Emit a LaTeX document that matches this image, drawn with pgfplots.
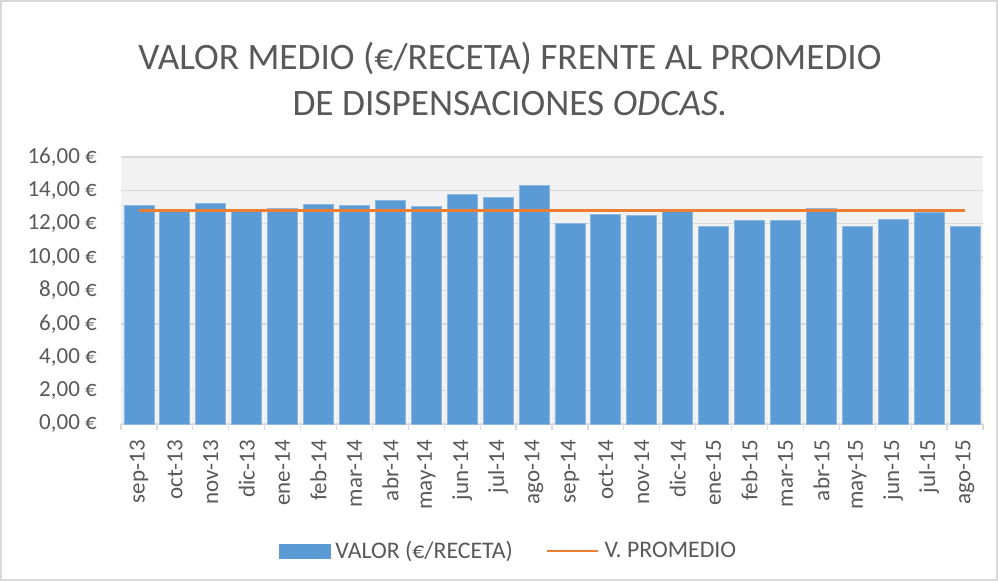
\documentclass[border=0pt]{standalone}
\usepackage{pgfplots}
\pgfplotsset{compat=1.18}
\usepackage{fontspec}
\setmainfont{Carlito}
\definecolor{barblue}{HTML}{5B9BD5}
\definecolor{baredge}{HTML}{8DB8E3}
\definecolor{lineor}{HTML}{ED7D31}
\definecolor{txt}{HTML}{595959}
\definecolor{gridc}{HTML}{D9D9D9}
\definecolor{bgc}{HTML}{F2F2F2}
\begin{document}
\begin{tikzpicture}
\useasboundingbox (-121pt,-157pt) rectangle (877pt,424pt);
\fill[white] (-121pt,-157pt) rectangle (877pt,424pt);
\draw[gridc, line width=1.2pt] (-120pt,-156pt) rectangle (876pt,423pt);
\node[anchor=base, text=txt, font=\fontsize{37.3}{37.3}\selectfont] at (389pt,354pt) {VALOR MEDIO (€/RECETA) FRENTE AL PROMEDIO};
\node[anchor=base, text=txt, font=\fontsize{37.3}{37.3}\selectfont] at (389pt,308pt) {DE DISPENSACIONES \textit{ODCAS.}};
\begin{axis}[
  width=862pt, height=267pt, scale only axis,
  xmin=-0.5, xmax=23.5, ymin=0, ymax=16,
  axis background/.style={fill=bgc},
  axis lines*=left,
  y axis line style={draw=none},
  x axis line style={gridc, line width=1.2pt},
  ytick={0,2,...,16},
  yticklabels={{0,00 €},{2,00 €},{4,00 €},{6,00 €},{8,00 €},{10,00 €},{12,00 €},{14,00 €},{16,00 €}},
  xtick={0,...,23},
  xticklabels={sep-13,oct-13,nov-13,dic-13,ene-14,feb-14,mar-14,abr-14,may-14,jun-14,jul-14,ago-14,sep-14,oct-14,nov-14,dic-14,ene-15,feb-15,mar-15,abr-15,may-15,jun-15,jul-15,ago-15},
  minor xtick={-0.5,0.5,...,23.5},
  major tick length=0pt,
  minor tick length=6pt,
  tick align=outside,
  minor tick style={gridc, line width=1.2pt},
  ymajorgrids=true,
  grid style={gridc, line width=1.3pt},
  yticklabel style={font=\fontsize{23}{23}\selectfont, text=txt, anchor=east, inner sep=0pt, xshift=-24pt},
  xticklabel style={font=\fontsize{23}{23}\selectfont, text=txt, yshift=-16pt, rotate=90, anchor=east, inner sep=0pt},
  legend style={at={(0.4512,-0.4757)}, anchor=center, draw=none, fill=none,
    font=\fontsize{23.8}{23.8}\selectfont, text=txt, legend columns=2,
    nodes={inner sep=5pt},
    /tikz/every even column/.append style={column sep=28pt}},
  clip=false,
]
\addplot[ybar, bar shift=0pt, bar width=30pt, fill=barblue, draw=baredge, line width=0.8pt,
  legend image code/.code={\fill[barblue] (0pt,-7pt) rectangle (51pt,7pt);}]
  coordinates {(0,13.10) (1,12.86) (2,13.22) (3,12.78) (4,12.94) (5,13.18) (6,13.08) (7,13.40) (8,13.06) (9,13.76) (10,13.56) (11,14.30) (12,12.04) (13,12.58) (14,12.52) (15,12.72) (16,11.84) (17,12.20) (18,12.18) (19,12.94) (20,11.82) (21,12.28) (22,12.68) (23,11.82)};
\addlegendentry{VALOR (€/RECETA)}
\addplot[lineor, line width=2.6pt, mark=none,
  legend image code/.code={\draw[lineor, line width=2.6pt] (0pt,0pt) -- (51pt,0pt);}]
  coordinates {(0,12.80) (1,12.80) (2,12.80) (3,12.80) (4,12.80) (5,12.80) (6,12.80) (7,12.80) (8,12.80) (9,12.80) (10,12.80) (11,12.80) (12,12.80) (13,12.80) (14,12.80) (15,12.80) (16,12.80) (17,12.80) (18,12.80) (19,12.80) (20,12.80) (21,12.80) (22,12.80) (23,12.80)};
\addlegendentry{V. PROMEDIO}
\end{axis}
\end{tikzpicture}
\end{document}
